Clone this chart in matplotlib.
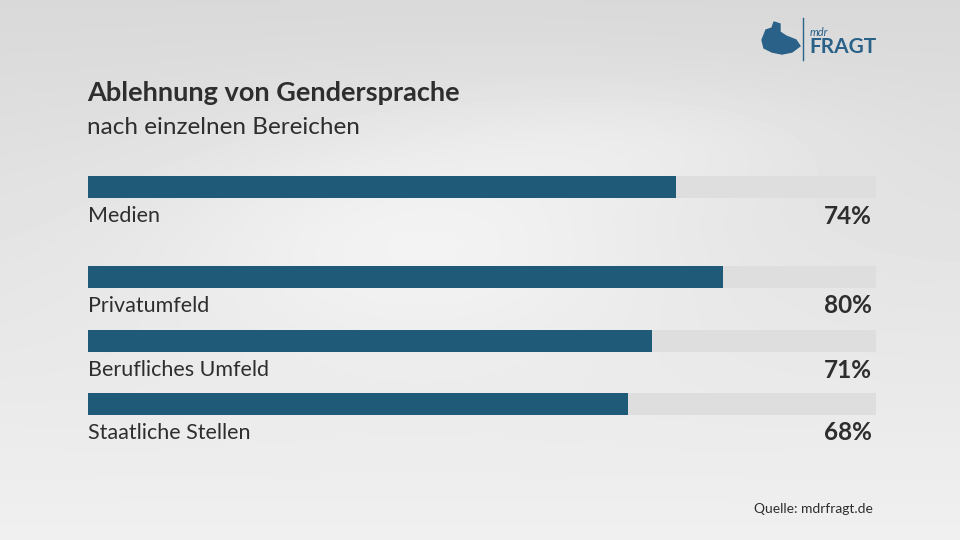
import numpy as np
import matplotlib.pyplot as plt
from matplotlib.patches import Polygon

plt.rcParams['font.family'] = ['Lato', 'DejaVu Sans']

categories = ["Medien", "Privatumfeld", "Berufliches Umfeld", "Staatliche Stellen"]
values = [74, 80, 71, 68]
bar_y = [187, 276.5, 341, 404]          # pixel rows of the bars
title = "Ablehnung von Gendersprache"
subtitle = "nach einzelnen Bereichen"
source = "Quelle: mdrfragt.de"

BLUE = "#1f5a78"
TRACK = "#dedede"
TEXT = "#2e2e2e"

fig = plt.figure(figsize=(9.6, 5.4), dpi=100)

# background: soft gray gradient
bg = fig.add_axes([0, 0, 1, 1])
yy, xx = np.mgrid[0:540, 0:960]
shade = 0.85 + 0.09 * (yy / 540)
shade += 0.06 * np.exp(-(((xx - 420) / 260) ** 2 + ((yy - 230) / 120) ** 2))
shade += 0.03 * np.exp(-(((xx - 650) / 200) ** 2 + ((yy - 140) / 60) ** 2))
shade = np.clip(shade, 0, 0.97)
bg.imshow(shade, cmap="gray", vmin=0, vmax=1, extent=(0, 960, 540, 0), aspect="auto")
bg.set_xlim(0, 960)
bg.set_ylim(540, 0)
bg.axis("off")

bg.text(87, 93, title, fontsize=19.5, fontweight="bold", color=TEXT, va="center")
bg.text(87, 127, subtitle, fontsize=17.5, color=TEXT, va="center")
bg.text(873, 509, source, fontsize=10, color=TEXT, ha="right", va="center")

# logo
logo = [(762, 40), (766, 30), (772, 28), (774, 22), (780, 24), (780, 32),
        (786, 36), (796, 40), (800, 46), (792, 52), (782, 54), (772, 52), (764, 48)]
bg.add_patch(Polygon(logo, closed=True, color="#2a6188"))
bg.plot([803, 803], [18, 60], color="#2a6188", lw=1)
bg.text(810, 32, "mdr", fontsize=8, color="#2a6188", va="center", style="italic")
bg.text(809, 47, "FRAGT", fontsize=15, fontweight="bold", color="#2a6188", va="center")

# bars
ax = fig.add_axes([88 / 960, 0, 794 / 960, 1])
ax.set_xlim(0, 100)
ax.set_ylim(540, 0)
ax.axis("off")
track_end = 788 / 794 * 100
ax.barh(bar_y, [track_end] * len(values), height=22, color=TRACK, left=0)
ax.barh(bar_y, values, height=22, color=BLUE, left=0)
for y, cat, v in zip(bar_y, categories, values):
    ax.text(0, y + 29, cat, fontsize=15.5, color=TEXT, va="center")
    ax.text(track_end - 0.5, y + 29, f"{v}%", fontsize=17.5, fontweight="bold", color=TEXT,
            va="center", ha="right")

fig.savefig("out.png", dpi=100)
